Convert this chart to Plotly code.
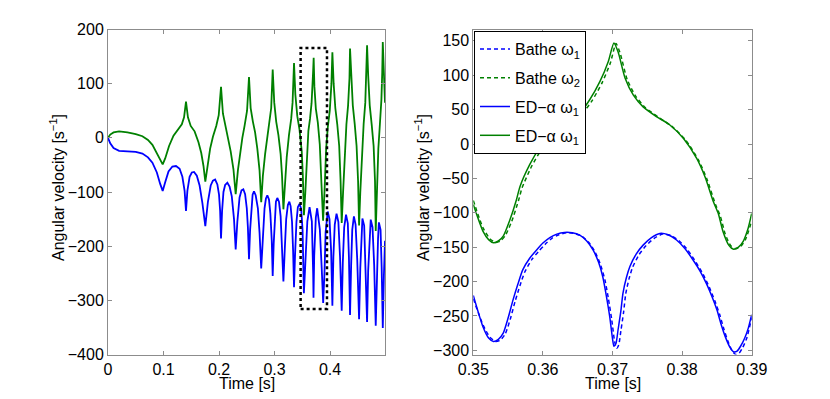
import plotly.graph_objects as go

# left panel: whole simulation, ED-alpha solution
t_w2 = [0.000, 0.004, 0.010, 0.020, 0.035, 0.050, 0.062, 0.072, 0.080, 0.088, 0.094, 0.0985,
        0.103, 0.110, 0.118, 0.126, 0.133, 0.137, 0.1405, 0.144, 0.149, 0.156, 0.163, 0.168,
        0.172, 0.1753, 0.179, 0.184, 0.189, 0.195, 0.1995, 0.2036, 0.207, 0.211, 0.216, 0.221,
        0.226, 0.230, 0.234, 0.238, 0.242, 0.246, 0.2505, 0.254, 0.257, 0.261, 0.265, 0.269,
        0.273, 0.276, 0.279, 0.283, 0.287, 0.291, 0.294, 0.2967, 0.2995, 0.303, 0.307, 0.311,
        0.3135, 0.316, 0.319, 0.322, 0.326, 0.330, 0.3325, 0.3351, 0.3375, 0.341, 0.345, 0.349,
        0.351, 0.353, 0.3555, 0.3581, 0.361, 0.3639, 0.3667, 0.3694, 0.3705, 0.3718, 0.3744,
        0.378, 0.3815, 0.3845, 0.3875, 0.390, 0.393, 0.396, 0.3995, 0.4025, 0.4042, 0.4065,
        0.4095, 0.413, 0.4165, 0.419, 0.421, 0.4235, 0.4265, 0.4295, 0.4325, 0.435, 0.436,
        0.438, 0.441, 0.4445, 0.4478, 0.4505, 0.4523, 0.4545, 0.4575, 0.4605, 0.4635, 0.4655,
        0.4667, 0.4687, 0.4715, 0.475, 0.4785, 0.481, 0.4823, 0.4845, 0.487, 0.4898, 0.4925,
        0.494, 0.495, 0.497, 0.499]
w2 = [0, 6, 10, 12, 10, 7, 3, -4, -13, -28, -42, -49,
      -38, -15, 4, 15, 25, 38, 67, 38, 22, 12, -8, -28,
      -52, -81, -52, -20, 2, 22, 42, 94, 45, 25, 5, -25,
      -58, -104, -60, -25, 0, 22, 50, 112, 55, 30, 10, -20,
      -60, -119, -70, -30, 0, 25, 55, 126, 65, 30, 5, -30,
      -70, -132, -80, -35, 5, 35, 65, 138, 80, 40, 15, -25,
      -70, -143, -100, -30, 13, 35, 64, 120, 148, 95, 54,
      28, -12, -84, -153, -100, -20, 20, 50, 100, 158, 100,
      55, 25, -15, -80, -157, -100, -20, 25, 60, 110, 165,
      110, 60, 25, -15, -80, -162, -100, -20, 25, 65, 115,
      171, 115, 60, 25, -15, -80, -172, -100, -20, 25, 70,
      120, 177, 120, 65]

t_w1 = [0.000, 0.004, 0.010, 0.020, 0.035, 0.050, 0.062, 0.072, 0.080, 0.088, 0.094, 0.0985,
        0.103, 0.109, 0.116, 0.1225, 0.129, 0.134, 0.138, 0.1405, 0.143, 0.147, 0.151, 0.155,
        0.160, 0.165, 0.170, 0.1753, 0.180, 0.185, 0.189, 0.193, 0.197, 0.200, 0.202, 0.2036,
        0.2055, 0.208, 0.211, 0.215, 0.219, 0.223, 0.227, 0.230, 0.233, 0.237, 0.2405, 0.2438,
        0.247, 0.250, 0.252, 0.254, 0.256, 0.259, 0.2605, 0.263, 0.266, 0.270, 0.273, 0.276,
        0.279, 0.282, 0.2845, 0.287, 0.290, 0.2925, 0.295, 0.2967, 0.2985, 0.301, 0.3025, 0.305,
        0.308, 0.311, 0.3135, 0.316, 0.3185, 0.321, 0.324, 0.3267, 0.329, 0.3315, 0.3335, 0.3351,
        0.337, 0.3395, 0.342, 0.345, 0.348, 0.3505, 0.3529, 0.3557, 0.3591, 0.3631, 0.3672,
        0.3696, 0.3702, 0.3715, 0.3744, 0.3768, 0.3816, 0.385, 0.3876, 0.390, 0.392, 0.3958,
        0.399, 0.402, 0.4042, 0.406, 0.4085, 0.4117, 0.415, 0.418, 0.421, 0.423, 0.4255, 0.4288,
        0.432, 0.434, 0.436, 0.438, 0.440, 0.443, 0.446, 0.449, 0.4523, 0.4545, 0.4565, 0.4583,
        0.4615, 0.464, 0.4667, 0.4687, 0.471, 0.4733, 0.4765, 0.4795, 0.4823, 0.4843, 0.4865,
        0.488, 0.491, 0.493, 0.495, 0.497, 0.499]
w1 = [0, -10, -19, -24, -25, -26, -29, -36, -46, -64, -85, -98,
      -82, -62, -53, -52, -57, -72, -98, -135, -98, -72, -64, -63,
      -70, -88, -120, -163, -118, -88, -79, -77, -86, -105, -135, -186,
      -135, -100, -87, -83, -90, -108, -150, -206, -155, -110, -97, -95,
      -104, -130, -165, -224, -170, -120, -105, -99, -106, -130, -175, -241,
      -180, -130, -112, -106, -114, -140, -190, -255, -195, -140, -118, -111,
      -118, -145, -195, -265, -205, -150, -124, -118, -126, -155, -210, -276,
      -215, -155, -128, -122, -131, -170, -287, -227, -154, -128, -154,
      -251, -295, -217, -147, -130, -169, -241, -305, -249, -175, -136,
      -150, -210, -310, -220, -160, -140, -155, -220, -319, -230, -165, -142,
      -158, -220, -327, -235, -170, -145, -160, -225, -335, -240, -175, -149,
      -162, -230, -340, -245, -180, -151, -165, -235, -347, -250, -185,
      -156, -170, -240, -351, -255, -190]

# zoomed window marked on the left panel
zoom_t = [0.347, 0.3945]
zoom_w = [-316, 166]

# right panel: zoom 0.35 - 0.39 s
ed_t_w1 = [0.3500, 0.3514, 0.3522, 0.3529, 0.3536, 0.3543, 0.3550, 0.3557, 0.3564, 0.3571,
           0.3581, 0.3591, 0.3600, 0.3610, 0.3620, 0.3631, 0.3642, 0.3653, 0.3663, 0.3672,
           0.3680, 0.3686, 0.3691, 0.3696, 0.3700, 0.3702, 0.3705, 0.3708, 0.3712, 0.3715,
           0.3720, 0.3725, 0.3734, 0.3744, 0.3756, 0.3768, 0.3780, 0.3792, 0.3804, 0.3816,
           0.3826, 0.3835, 0.3843, 0.3850, 0.3856, 0.3862, 0.3869, 0.3874, 0.3879, 0.3884,
           0.3890, 0.3895, 0.3900]
ed_w1 = [-220, -266, -282, -287, -284, -275, -253, -227, -204, -183,
         -166, -154, -144, -136, -131, -128.5, -129, -132.5, -141, -154,
         -172, -193, -220, -251, -283, -294, -290, -270, -243, -217,
         -194, -178, -160, -147, -136, -130, -132, -139.5, -152, -169,
         -185, -203, -222, -241, -262, -280, -296, -302, -301, -294,
         -282, -268, -248]

ed_t_w2 = [0.3500, 0.3514, 0.3522, 0.3529, 0.3536, 0.3543, 0.3552, 0.3562, 0.3567, 0.3581,
           0.3595, 0.3610, 0.3624, 0.3639, 0.3653, 0.3667, 0.3682, 0.3694, 0.3702, 0.3708,
           0.3718, 0.3730, 0.3744, 0.3763, 0.3782, 0.3802, 0.3821, 0.3833, 0.3845, 0.3852,
           0.3859, 0.3867, 0.3874, 0.3881, 0.3888, 0.3895, 0.3900]
ed_w2 = [-88, -127, -139, -143.5, -141, -134, -112, -81, -62, -30,
         -6, 13, 28, 36, 45, 64, 91, 120, 147, 134,
         96, 71, 54, 40, 28, 8, -21, -48, -84, -101,
         -128, -147, -153, -150, -141, -122, -101]

bathe_t_w1 = [0.3500, 0.3514, 0.3524, 0.3532, 0.3539, 0.3546, 0.3553, 0.3560, 0.3567, 0.3574,
              0.3584, 0.3594, 0.3603, 0.3613, 0.3623, 0.3634, 0.3645, 0.3656, 0.3666, 0.3675,
              0.3683, 0.3689, 0.3694, 0.3699, 0.3703, 0.3706, 0.3709, 0.3712, 0.3716, 0.3719,
              0.3724, 0.3729, 0.3738, 0.3748, 0.3760, 0.3772, 0.3784, 0.3796, 0.3808, 0.3820,
              0.3830, 0.3839, 0.3847, 0.3854, 0.3860, 0.3866, 0.3872, 0.3877, 0.3882, 0.3887,
              0.3893, 0.3900]
bathe_w1 = [-225, -263, -281, -287, -285, -276, -255, -229, -206, -186,
            -168, -156, -146, -137, -132, -129, -130, -134, -143, -157,
            -176, -197, -224, -256, -287, -297, -292, -272, -244, -218,
            -195, -179, -161, -148, -137, -131, -133, -141, -154, -172,
            -189, -208, -228, -248, -269, -287, -301, -306, -304, -296,
            -282, -252]

bathe_t_w2 = [0.3500, 0.3514, 0.3524, 0.3532, 0.3539, 0.3546, 0.3555, 0.3565, 0.3570, 0.3584,
              0.3598, 0.3613, 0.3627, 0.3642, 0.3656, 0.3670, 0.3685, 0.3697, 0.3705, 0.3711,
              0.3721, 0.3733, 0.3747, 0.3766, 0.3785, 0.3805, 0.3824, 0.3836, 0.3848, 0.3855,
              0.3862, 0.3870, 0.3877, 0.3884, 0.3891, 0.3900]
bathe_w2 = [-82, -122, -138, -143, -141, -133, -113, -82, -64, -32,
            -8, 11, 27, 35, 44, 62, 89, 118, 146, 132,
            94, 70, 53, 39, 26, 6, -24, -52, -88, -105,
            -131, -148, -152, -149, -139, -112]

BLUE = '#0000ff'
GREEN = '#008000'
FONT = 'Liberation Sans, Arial, Helvetica, sans-serif'
FS = 16
DASH = '4px,3px'

# the page body adds an 8px margin, so the figure is 8px smaller and
# every position below is measured from the window corner minus 8
OFF = 8
W, H = 830 - OFF, 399 - OFF


def px_x(p):
    return (p - OFF) / W


def px_y(p):
    return 1 - (p - OFF) / H


fig = go.Figure()

# left panel
fig.add_trace(go.Scatter(x=t_w2, y=w2, mode='lines', line=dict(color=GREEN, width=1.8),
                         showlegend=False, xaxis='x', yaxis='y'))
fig.add_trace(go.Scatter(x=t_w1, y=w1, mode='lines', line=dict(color=BLUE, width=1.8),
                         showlegend=False, xaxis='x', yaxis='y'))

# right panel, one legend group per trace so the rows get some extra air
right = [
    (bathe_t_w1, bathe_w1, 'Bathe ω<sub>1</sub>', BLUE, DASH),
    (bathe_t_w2, bathe_w2, 'Bathe ω<sub>2</sub>', GREEN, DASH),
    (ed_t_w1, ed_w1, 'ED−α ω<sub>1</sub>', BLUE, 'solid'),
    (ed_t_w2, ed_w2, 'ED−α ω<sub>1</sub>', GREEN, 'solid'),
]
for i, (tx, wy, name, col, dash) in enumerate(right):
    fig.add_trace(go.Scatter(x=tx, y=wy, mode='lines', name=name, legendgroup='g%d' % i,
                             line=dict(color=col, width=1.5, dash=dash,
                                       shape='spline', smoothing=0.6),
                             xaxis='x2', yaxis='y2'))

fig.add_shape(type='rect', xref='x', yref='y', x0=zoom_t[0], x1=zoom_t[1],
              y0=zoom_w[0], y1=zoom_w[1], line=dict(color='black', width=2.5, dash='dot'))

axis_style = dict(showline=True, linecolor='#8c8c8c', linewidth=1, mirror='ticks',
                  ticks='inside', ticklen=4, tickcolor='#8c8c8c', showgrid=False,
                  zeroline=False, automargin=False,
                  tickfont=dict(family=FONT, size=FS, color='black'))

fig.update_layout(
    width=W, height=H,
    margin=dict(l=0, r=0, t=0, b=0),
    paper_bgcolor='white', plot_bgcolor='white',
    font=dict(family=FONT, size=FS, color='black'),
    xaxis=dict(domain=[px_x(108), px_x(385)], range=[0, 0.499],
               tickvals=[0, 0.1, 0.2, 0.3, 0.4], ticktext=['0', '0.1', '0.2', '0.3', '0.4'],
               anchor='y', **axis_style),
    yaxis=dict(domain=[px_y(354.5), px_y(29.5)], range=[-400, 200], dtick=100,
               anchor='x', **axis_style),
    xaxis2=dict(domain=[px_x(473.3), px_x(751.7)], range=[0.35, 0.39],
                tickvals=[0.35, 0.36, 0.37, 0.38, 0.39], anchor='y2', **axis_style),
    yaxis2=dict(domain=[px_y(354.5), px_y(29.5)], range=[-306, 166.5], dtick=50,
                anchor='x2', **axis_style),
    legend=dict(x=px_x(474), y=px_y(31), xanchor='left', yanchor='top',
                bgcolor='white', bordercolor='black', borderwidth=1, itemwidth=30,
                tracegroupgap=5,
                font=dict(family=FONT, size=FS, color='black')),
)

# axis titles
ylab = 'Angular velocity [s<sup>−1</sup>]'
for x_px in (57, 422):
    fig.add_annotation(text=ylab, xref='paper', yref='paper', x=px_x(x_px), y=px_y(188),
                       xanchor='center', yanchor='middle', textangle=-90,
                       showarrow=False, font=dict(family=FONT, size=FS))
for x_px in (246.5, 612.5):
    fig.add_annotation(text='Time [s]', xref='paper', yref='paper', x=px_x(x_px), y=px_y(383),
                       xanchor='center', yanchor='middle',
                       showarrow=False, font=dict(family=FONT, size=FS))

fig.write_html("out.html")
